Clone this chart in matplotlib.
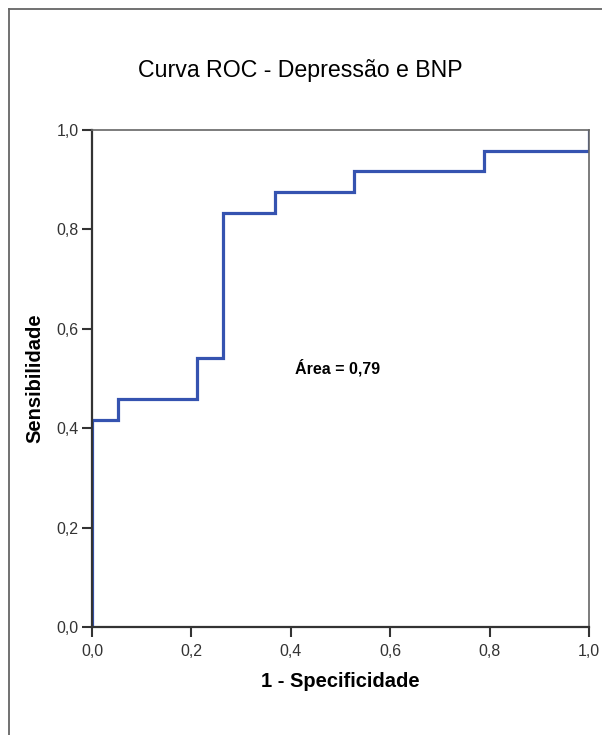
import matplotlib
matplotlib.use('Agg')
import matplotlib.pyplot as plt
from matplotlib.lines import Line2D

plt.rcParams['font.family'] = ['Liberation Sans', 'DejaVu Sans']

# pontos da curva ROC (1 - especificidade, sensibilidade)
fpr = [0.0, 0.0, 0.0526, 0.0526, 0.2105, 0.2105, 0.2632, 0.2632, 0.3684, 0.3684,
       0.5263, 0.5263, 0.7895, 0.7895, 1.0, 1.0]
tpr = [0.0, 0.4167, 0.4167, 0.4583, 0.4583, 0.5417, 0.5417, 0.8333, 0.8333, 0.875,
       0.875, 0.9167, 0.9167, 0.9583, 0.9583, 1.0]
ticks = [0.0, 0.2, 0.4, 0.6, 0.8, 1.0]
tick_labels = ['0,0', '0,2', '0,4', '0,6', '0,8', '1,0']
auc_text = 'Área = 0,79'

fig = plt.figure(figsize=(6.02, 7.35), dpi=100)
ax = fig.add_axes([92 / 602, 1 - 627 / 735, 497 / 602, 497 / 735])

ax.plot(fpr, tpr, color='#3553b0', linewidth=2.3, solid_joinstyle='miter')
ax.set_xlim(0, 1)
ax.set_ylim(0, 1)
ax.set_xticks(ticks)
ax.set_xticklabels(tick_labels)
ax.set_yticks(ticks)
ax.set_yticklabels(tick_labels)
ax.tick_params(direction='out', length=7.5, width=1.5, color='#333333',
               labelsize=11.5, labelcolor='#333333')
ax.tick_params(axis='x', pad=5)
ax.tick_params(axis='y', pad=2)

for side in ['left', 'bottom']:
    ax.spines[side].set_linewidth(1.6)
    ax.spines[side].set_color('#333333')
for side in ['top', 'right']:
    ax.spines[side].set_linewidth(1.2)
    ax.spines[side].set_color('#666666')

ax.set_xlabel('1 - Specificidade', fontsize=14.5, fontweight='bold', labelpad=9)
ax.set_ylabel('Sensibilidade', fontsize=14.5, fontweight='bold', labelpad=9)
ax.text(0.494, 0.521, auc_text, fontsize=11.5, fontweight='bold', ha='center', va='center')

fig.text(300 / 602, 1 - 70 / 735, 'Curva ROC - Depressão e BNP', fontsize=16.7,
         ha='center', va='center')

# moldura externa (só esquerda e topo)
fig.add_artist(Line2D([9 / 602, 9 / 602], [0, 1 - 9 / 735], transform=fig.transFigure,
                      color='#666666', linewidth=1.3))
fig.add_artist(Line2D([9 / 602, 1], [1 - 9 / 735, 1 - 9 / 735], transform=fig.transFigure,
                      color='#666666', linewidth=1.3))

fig.savefig('out.png', dpi=100)
